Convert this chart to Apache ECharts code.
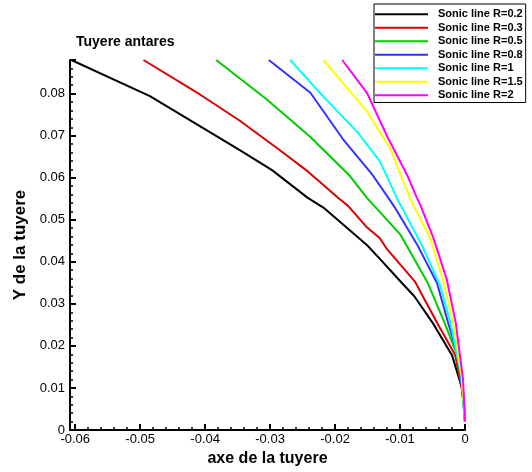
<!DOCTYPE html>
<html>
<head>
<meta charset="utf-8">
<script src="https://cdn.jsdelivr.net/npm/echarts@6/dist/echarts.min.js"></script>
<style>
  html, body { margin: 0; padding: 0; background: #fff; }
  #chart { width: 532px; height: 472px; }
</style>
</head>
<body>
<div id="chart"></div>
<script>
// sonic lines, [x, y] points (top to bottom)
var lineR02 = [[-0.0606,0.088],[-0.0485,0.0794],[-0.0346,0.0665],[-0.0297,0.0618],[-0.0242,0.0552],[-0.0218,0.0529],[-0.0151,0.0440],[-0.0131,0.0407],[-0.0095,0.0346],[-0.0078,0.0318],[-0.0049,0.0253],[-0.0020,0.0178],[-0.0005,0.0101],[-0.0002,0.006],[0,0.002]];
var lineR03 = [[-0.0495,0.088],[-0.0408,0.0798],[-0.0346,0.0735],[-0.0288,0.0669],[-0.0242,0.0615],[-0.0195,0.0552],[-0.0180,0.0533],[-0.0151,0.0482],[-0.0131,0.0456],[-0.0120,0.0430],[-0.0077,0.0353],[-0.0065,0.0318],[-0.0043,0.0255],[-0.0015,0.0178],[-0.0003,0.0084],[0,0.002]];
var lineR05 = [[-0.0383,0.088],[-0.0305,0.0786],[-0.0238,0.0697],[-0.0177,0.0604],[-0.0151,0.0552],[-0.0100,0.0466],[-0.0057,0.0349],[-0.0031,0.0253],[-0.0012,0.0178],[-0.0002,0.0084],[0,0.002]];
var lineR08 = [[-0.0302,0.088],[-0.0238,0.0802],[-0.0188,0.0692],[-0.0142,0.0606],[-0.0118,0.0552],[-0.0108,0.0529],[-0.0074,0.0442],[-0.0043,0.0349],[-0.0026,0.0255],[-0.0008,0.0161],[0,0.002]];
var lineR1 = [[-0.0269,0.088],[-0.0218,0.0793],[-0.0166,0.0709],[-0.0131,0.0639],[-0.0105,0.0552],[-0.0065,0.0435],[-0.0038,0.0342],[-0.0022,0.0253],[-0.0006,0.013],[0,0.002]];
var lineR15 = [[-0.0218,0.088],[-0.0151,0.0758],[-0.0115,0.0669],[-0.0085,0.0552],[-0.0080,0.0536],[-0.0054,0.0458],[-0.0034,0.0358],[-0.0018,0.0253],[-0.0005,0.013],[0,0.002]];
var lineR2 = [[-0.0189,0.088],[-0.0151,0.0802],[-0.0120,0.0699],[-0.0089,0.0606],[-0.0074,0.0552],[-0.0069,0.0536],[-0.0049,0.0458],[-0.0028,0.0358],[-0.0014,0.0253],[-0.0003,0.012],[0,0.002]];

var names = ['Sonic line R=0.2', 'Sonic line R=0.3', 'Sonic line R=0.5', 'Sonic line R=0.8', 'Sonic line R=1', 'Sonic line R=1.5', 'Sonic line R=2'];
var lines = [lineR02, lineR03, lineR05, lineR08, lineR1, lineR15, lineR2];
var colors = ['#000000', '#dd0000', '#00cc00', '#3333ff', '#00ffff', '#ffff00', '#ff00ff'];

var font = 'Arial, "Liberation Sans", sans-serif';

var chart = echarts.init(document.getElementById('chart'));

var series = [];
for (var i = 0; i < lines.length; i++) {
    series.push({
        name: names[i],
        type: 'line',
        data: lines[i],
        showSymbol: false,
        lineStyle: { color: colors[i], width: 2 },
        itemStyle: { color: colors[i] },
        z: 2
    });
}

function tickFmt(v) { return v === 0 ? '0' : String(+v.toFixed(2)); }

var option = {
    animation: false,
    backgroundColor: '#fff',
    color: colors,
    title: {
        text: 'Tuyere antares',
        left: 76,
        top: 35,
        padding: 0,
        textStyle: { fontFamily: font, fontSize: 14, fontWeight: 'bold', color: '#000' }
    },
    legend: {
        orient: 'vertical',
        left: 374,
        top: 4,
        padding: [4, 3, 1, 1],
        borderColor: '#000',
        borderWidth: 1,
        backgroundColor: '#fff',
        icon: 'rect',
        itemWidth: 53,
        itemHeight: 2,
        itemGap: 1,
        align: 'left',
        textStyle: { fontFamily: font, fontSize: 11, fontWeight: 'bold', color: '#000', lineHeight: 12.5, padding: [0, 0, 0, 5] },
        data: names
    },
    grid: { left: 70, right: 67, top: 60, bottom: 36, containLabel: false },
    xAxis: {
        type: 'value',
        min: -0.0608,
        max: 0,
        splitNumber: 6,
        name: 'axe de la tuyere',
        nameLocation: 'middle',
        nameGap: 21,
        nameTextStyle: { fontFamily: font, fontSize: 16, fontWeight: 'bold', color: '#000' },
        axisLine: { show: true, onZero: false, lineStyle: { color: '#000', width: 2 } },
        axisTick: { show: true, inside: true, length: 6, lineStyle: { color: '#000', width: 2 } },
        minorTick: { show: true, splitNumber: 5, length: 3, lineStyle: { color: '#000', width: 1.5 } },
        axisLabel: { showMinLabel: false, margin: 3, fontFamily: font, fontSize: 13, color: '#000', formatter: tickFmt },
        splitLine: { show: false }
    },
    yAxis: {
        type: 'value',
        min: 0,
        max: 0.088,
        interval: 0.01,
        name: 'Y de la tuyere',
        nameLocation: 'middle',
        nameGap: 39,
        nameTextStyle: { fontFamily: font, fontSize: 17, fontWeight: 'bold', color: '#000' },
        axisLine: { show: true, onZero: false, lineStyle: { color: '#000', width: 2 } },
        axisTick: { show: true, inside: true, length: 6, lineStyle: { color: '#000', width: 2 } },
        minorTick: { show: true, splitNumber: 5, length: 3, lineStyle: { color: '#000', width: 1.5 } },
        axisLabel: { showMaxLabel: false, margin: 5, fontFamily: font, fontSize: 13, color: '#000', formatter: tickFmt },
        splitLine: { show: false }
    },
    series: series
};

chart.setOption(option);
</script>
</body>
</html>
